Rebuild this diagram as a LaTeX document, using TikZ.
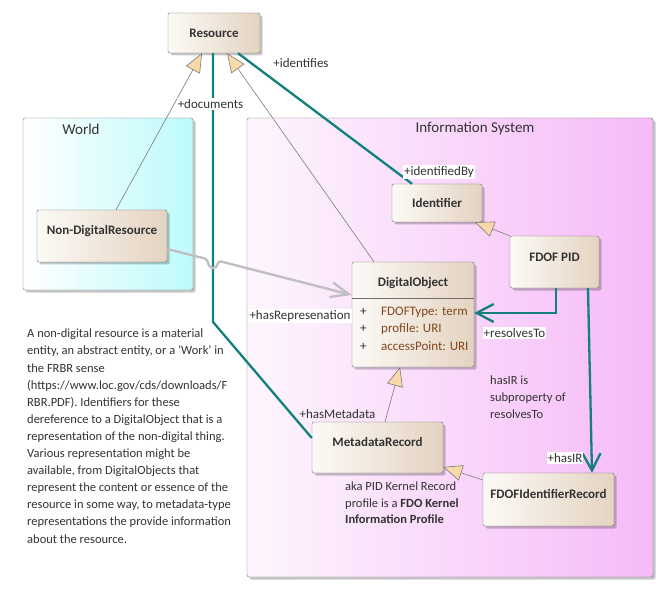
\documentclass[tikz,border=0pt]{standalone}
\usepackage{fontspec}
\setmainfont{Carlito}
\usepackage{tikz}
\usetikzlibrary{calc,positioning,arrows.meta,shadows}
\definecolor{TealLink}{HTML}{137F7E}
\definecolor{GreyLink}{HTML}{C0C0C4}
\definecolor{GenLine}{HTML}{7A7A7A}
\definecolor{GenFill}{HTML}{F8D9AA}
\definecolor{BoxEdge}{HTML}{6E6E6E}
\definecolor{BoxLight}{HTML}{FCFAF6}
\definecolor{BoxTan}{HTML}{E4D3C1}
\definecolor{WorldCyan}{HTML}{BDFAFB}
\definecolor{InfoLight}{HTML}{FDF6FD}
\definecolor{InfoPink}{HTML}{F6BAF8}
\definecolor{TextDark}{HTML}{333333}
\definecolor{AttrBrown}{HTML}{84451F}

\begin{document}
\begin{tikzpicture}[x=1pt, y=-1pt,
    umlbox/.style={draw=BoxEdge, rounded corners=2pt, left color=BoxLight, right color=BoxTan,
      drop shadow={shadow xshift=2.5pt, shadow yshift=-2.5pt, fill=black, opacity=0.22},
      inner sep=0pt, text height=9pt, text depth=0.6pt, text=TextDark,
      font=\fontsize{13}{15}\selectfont\bfseries},
    framebox/.style={draw=BoxEdge, rounded corners=2pt, inner sep=0pt,
      drop shadow={shadow xshift=2.5pt, shadow yshift=-2.5pt, fill=black, opacity=0.22}},
    lbl/.style={font=\fontsize{13}{15}\selectfont, text=TextDark, inner sep=1pt},
    lblbg/.style={lbl, fill=white},
    note/.style={font=\fontsize{12.5}{17.1}\selectfont, text=TextDark, align=left, inner sep=0pt, anchor=north west},
    attr/.style={font=\fontsize{13}{15}\selectfont, text=AttrBrown, inner sep=0pt, anchor=west},
    gen/.style={draw=GenLine, line width=0.6pt, -{Triangle[length=19pt, width=16pt, fill=GenFill]}},
    assoc/.style={draw=TealLink, line width=2.3pt},
    vhead/.style={-{Straight Barb[length=17pt, width=18pt]}},
    dep/.style={draw=GreyLink, line width=2.4pt, -{Straight Barb[length=18pt, width=15pt]}}]
  \fill[white] (0,0) rectangle (671,593);
  \useasboundingbox (0,0) rectangle (671,593);

  \node[framebox, left color=white, right color=WorldCyan, minimum width=170pt, minimum height=172pt] (world) at (108,204) {};
  \node[framebox, left color=InfoLight, right color=InfoPink, minimum width=406pt, minimum height=459pt] (infosys) at (450,347.5) {};
  \node[lbl, font=\fontsize{15}{17}\selectfont] (worldtitle) at (81,129) {World};
  \node[lbl, font=\fontsize{15}{17}\selectfont] (infotitle) at (475,129) {Information System};

  \node[umlbox, minimum width=92pt, minimum height=40pt] (res) at (214,33) {Resource};
  \node[umlbox, minimum width=130pt, minimum height=52pt, text depth=12.6pt] (ndr) at (102,236) {Non-DigitalResource};
  \node[umlbox, minimum width=90pt, minimum height=38pt] (ident) at (437,203) {Identifier};
  \node[umlbox, minimum width=89pt, minimum height=52pt, text depth=10.6pt] (fdof) at (554.5,262) {FDOF PID};
  \node[umlbox, minimum width=122pt, minimum height=105pt] (dobj) at (413,314.5) {};
  \node[umlbox, minimum width=131pt, minimum height=51pt, text depth=11.6pt] (mdr) at (377.5,447.5) {MetadataRecord};
  \node[umlbox, minimum width=131pt, minimum height=53pt, text depth=11.6pt] (fdifr) at (548.5,499.5) {FDOFIdentifierRecord};

  \node[lbl, font=\fontsize{13}{15}\selectfont\bfseries] (dobjname) at (413,283) {DigitalObject};
  \draw[BoxEdge, line width=0.6pt] (dobj.west |- 0,298) -- (dobj.east |- 0,298);
  \node[attr] (attrtype) at (360,312) {\textcolor{TextDark}{\makebox[21pt][l]{+}}FDOFType: term};
  \node[attr] (attrprofile) at (360,329) {\textcolor{TextDark}{\makebox[21pt][l]{+}}profile: URI};
  \node[attr] (attraccess) at (360,346) {\textcolor{TextDark}{\makebox[21pt][l]{+}}accessPoint: URI};

  \draw[gen] (ndr.north -| 116,0) -- (res.south -| 202,0);
  \draw[gen] (dobj.north -| 374,0) -- (res.south -| 227,0);
  \draw[gen] (fdof.north west) -- (ident.south -| 475,0);
  \draw[gen] (mdr.north -| 385,0) -- (dobj.south -| 400,0);
  \draw[gen] (fdifr.west |- 0,480) -- (mdr.east |- 0,467);

  \draw[assoc] (res.south -| 213,0) -- (213,322) -- (mdr.west |- 0,438);
  \draw[assoc] (res.south -| 238,0) -- (ident.north -| 412,0);
  \draw[assoc, vhead] (fdof.south -| 556,0) -- (556,313) -- (dobj.east |- 0,313);
  \draw[assoc, vhead] (fdof.south -| 588,0) -- (fdifr.north -| 592,0);

  \draw[dep] (ndr.east |- 0,249) -- (205,258.5) .. controls (209,259.5) and (207,268) .. (213,268)
    .. controls (219,268) and (216,261) .. (221,261.5) -- (dobj.west |- 0,295);

  \node[lblbg] (lidentifies) at (301,63) {+identifies};
  \node[lblbg] (ldocuments) at (210.5,104) {+documents};
  \node[lblbg] (lidentifiedby) at (439,172) {+identifiedBy};
  \node[lblbg] (lhasrep) at (300,316) {+hasRepresenation};
  \node[lblbg] (lresolves) at (514.5,333) {+resolvesTo};
  \node[lbl] (lhasmeta) at (337.5,414) {+hasMetadata};
  \node[lblbg] (lhasir) at (565,458) {+hasIR};

  \node[note, font=\fontsize{12.5}{16.8}\selectfont] (notesub) at (490,376) {hasIR is\\subproperty of\\resolvesTo};
  \node[note, font=\fontsize{12.5}{16.5}\selectfont] (noteaka) at (345,482) {aka PID Kernel Record\\profile is a \textbf{FDO Kernel}\\\textbf{Information Profile}};
  \node[note] (noteworld) at (27,329) {A non-digital resource is a material\\
    entity, an abstract entity, or a 'Work' in\\
    the FRBR sense\\
    (https://www.loc.gov/cds/downloads/F\\
    RBR.PDF). Identifiers for these\\
    dereference to a DigitalObject that is a\\
    representation of the non-digital thing.\\
    Various representation might be\\
    available, from DigitalObjects that\\
    represent the content or essence of the\\
    resource in some way, to metadata-type\\
    representations the provide information\\
    about the resource.};
\end{tikzpicture}
\end{document}
